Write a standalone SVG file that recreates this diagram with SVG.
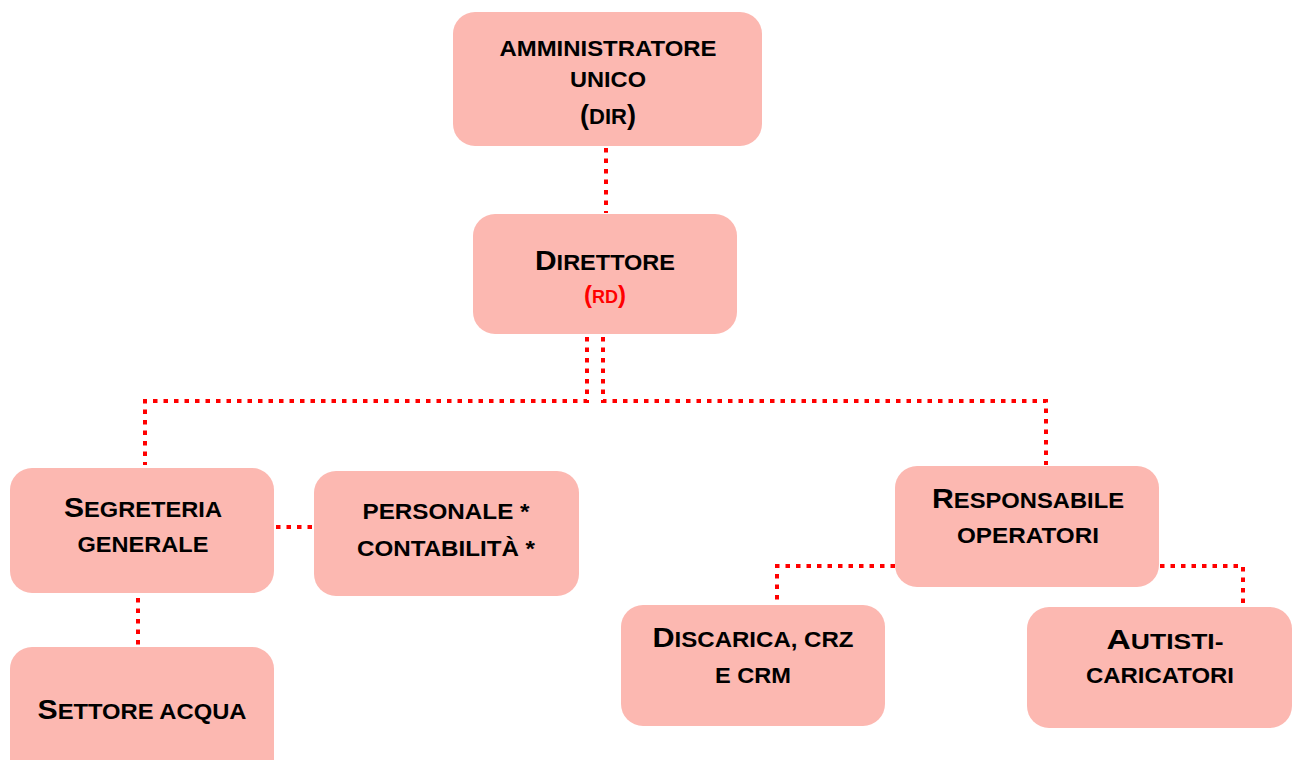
<svg xmlns="http://www.w3.org/2000/svg" width="1295" height="760" viewBox="0 0 1295 760">
<style>
.box{fill:#FCB8B1;}
.t{font-family:"Liberation Sans",Arial,sans-serif;font-weight:bold;fill:#000;text-anchor:middle;}
.s{font-size:22px;}
.L{font-size:28px;}
.red{fill:#FF0000;}
.c{fill:none;stroke:#FF0000;stroke-width:4;stroke-dasharray:4.5 6;}
</style>
<rect width="1295" height="760" fill="#fff"/>
<g id="connectors">
<path class="c" d="M606 148 V213"/>
<path class="c" d="M587 337 V401 H145 V465"/>
<path class="c" d="M603 337 V401 H1046 V465"/>
<path class="c" d="M276 527 H313"/>
<path class="c" d="M138 598 V646"/>
<path class="c" d="M895 566 H777 V600"/>
<path class="c" d="M1160 566 H1243 V604"/>
</g>
<g id="admin">
<rect class="box" x="453" y="12" width="309" height="134" rx="22"/>
<text class="t s" x="608" y="56" textLength="217" lengthAdjust="spacingAndGlyphs">AMMINISTRATORE</text>
<text class="t s" x="608" y="87" textLength="76" lengthAdjust="spacingAndGlyphs">UNICO</text>
<text class="t s" x="608" y="124"><tspan style="font-size:27px">(</tspan>DIR<tspan style="font-size:27px">)</tspan></text>
</g>
<g id="direttore">
<rect class="box" x="473" y="214" width="264" height="120" rx="22"/>
<text class="t s" x="605" y="270" textLength="140" lengthAdjust="spacingAndGlyphs"><tspan class="L">D</tspan>IRETTORE</text>
<text class="t red" x="605" y="303" style="font-size:18px"><tspan style="font-size:24px">(</tspan>RD<tspan style="font-size:24px">)</tspan></text>
</g>
<g id="segreteria">
<rect class="box" x="10" y="468" width="264" height="125" rx="22"/>
<text class="t s" x="143" y="517" textLength="158" lengthAdjust="spacingAndGlyphs"><tspan class="L">S</tspan>EGRETERIA</text>
<text class="t s" x="143" y="552" textLength="131" lengthAdjust="spacingAndGlyphs">GENERALE</text>
</g>
<g id="personale">
<rect class="box" x="314" y="471" width="265" height="125" rx="22"/>
<text class="t s" x="446" y="519" textLength="167" lengthAdjust="spacingAndGlyphs">PERSONALE *</text>
<text class="t s" x="446" y="556" textLength="178" lengthAdjust="spacingAndGlyphs">CONTABILITÀ *</text>
</g>
<g id="settore">
<rect class="box" x="10" y="647" width="264" height="140" rx="22"/>
<text class="t s" x="142" y="719" textLength="209" lengthAdjust="spacingAndGlyphs"><tspan class="L">S</tspan>ETTORE ACQUA</text>
</g>
<g id="responsabile">
<rect class="box" x="895" y="466" width="264" height="121" rx="22"/>
<text class="t s" x="1028" y="508" textLength="192" lengthAdjust="spacingAndGlyphs"><tspan class="L">R</tspan>ESPONSABILE</text>
<text class="t s" x="1028" y="543" textLength="142" lengthAdjust="spacingAndGlyphs">OPERATORI</text>
</g>
<g id="discarica">
<rect class="box" x="621" y="605" width="264" height="121" rx="22"/>
<text class="t s" x="753" y="647" textLength="201" lengthAdjust="spacingAndGlyphs"><tspan class="L">D</tspan>ISCARICA, CRZ</text>
<text class="t s" x="753" y="683" textLength="76" lengthAdjust="spacingAndGlyphs">E CRM</text>
</g>
<g id="autisti">
<rect class="box" x="1027" y="607" width="265" height="121" rx="22"/>
<text class="t s" x="1165" y="649" textLength="117" lengthAdjust="spacingAndGlyphs"><tspan class="L">A</tspan>UTISTI-</text>
<text class="t s" x="1160" y="683" textLength="148" lengthAdjust="spacingAndGlyphs">CARICATORI</text>
</g>
</svg>
